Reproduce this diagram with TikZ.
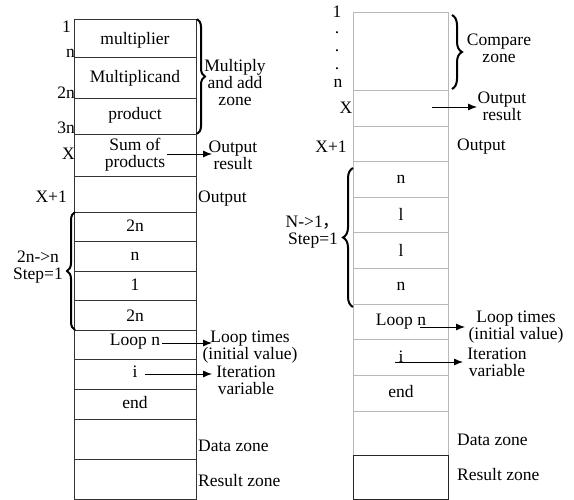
\documentclass[tikz,border=0pt]{standalone}
\usepackage{fontspec}
\setmainfont{Liberation Serif}
\newfontfamily\cjkfont{Noto Sans CJK SC}
\usetikzlibrary{arrows.meta,decorations.pathreplacing}
\begin{document}
\begin{tikzpicture}[x=1pt,y=-1pt,
  font=\fontsize{17.5}{17}\selectfont,
  lgrid/.style={draw=black!80,line width=0.9pt},
  rgrid/.style={draw=black!28,line width=0.9pt},
  txt/.style={inner sep=0pt,anchor=center},
  lbl/.style={inner sep=0pt,align=center},
  arr/.style={-{Latex[length=9pt,width=7pt]},line width=0.9pt},
  brc/.style={decorate,decoration={brace,amplitude=8pt},line width=2pt},
]
\useasboundingbox (0,0) rectangle (574,500);
% ---------- left column ----------
\foreach \a/\b in {19/57,57/98,98/134,134/176,176/212,212/241,241/271,271/300,300/330,330/359,359/389,389/419,419/459,459/499}
  \draw[lgrid] (74,\a) rectangle (196,\b);
\node[txt] (lmul) at (135,40) {multiplier};
\node[txt] (lmcd) at (135,78) {Multiplicand};
\node[txt] (lprod) at (135,115) {product};
\node[lbl] (lsum) at (135,155) {Sum of\\products};
\node[txt] (lc1) at (135,226) {2n};
\node[txt] (lc2) at (135,256) {n};
\node[txt] (lc3) at (135,285) {1};
\node[txt] (lc4) at (135,316) {2n};
\node[txt] (lloop) at (135,342) {Loop n};
\node[txt] (li) at (135,372) {i};
\node[txt] (lend) at (135,403) {end};
% index labels
\node[txt,anchor=east] (li1) at (71,27) {1};
\node[txt,anchor=east] (lin) at (75,53) {n};
\node[txt,anchor=east] (li2n) at (75,93) {2n};
\node[txt,anchor=east] (li3n) at (75,128) {3n};
\node[txt,anchor=east] (liX) at (75,154) {X};
\node[txt,anchor=east] (liX1) at (67,197) {X+1};
% braces
\draw[brc] (197,19) -- (197,134);
\draw[brc] (75,330) -- (75,212);
\node[lbl] (lmaz) at (235,83) {Multiply\\and add\\zone};
\node[lbl] (lstep) at (38,267) {2n->n\\Step=1};
% right labels
\node[lbl] (lout) at (233,155) {Output\\result};
\node[txt,anchor=west] (lout2) at (198,199) {Output};
\node[lbl] (llt) at (250,347) {Loop times\\(initial value)};
\node[lbl] (liv) at (246,380) {Iteration\\variable};
\node[txt,anchor=west] (ldata) at (198,446) {Data zone};
\node[txt,anchor=west] (lres) at (198,481) {Result zone};
% arrows
\coordinate (la1s) at (167,154); \coordinate (la1e) at (212,154);
\coordinate (la2s) at (162,343); \coordinate (la2e) at (212,343);
\coordinate (la3s) at (145,374); \coordinate (la3e) at (212,374);
\draw[arr] (la1s) -- (la1e);
\draw[arr] (la2s) -- (la2e);
\draw[arr] (la3s) -- (la3e);
% ---------- right column ----------
\foreach \a/\b in {12/90,90/126,126/161,161/197,197/232,232/268,268/304,304/339,339/375,375/411,411/455}
  \draw[rgrid] (353,\a) rectangle (448,\b);
\draw[line width=0.9pt,draw=black!85] (353,455) rectangle (448,499);
\node[txt] (rc1) at (401,179) {n};
\node[txt] (rc2) at (401,214) {l};
\node[txt] (rc3) at (401,250) {l};
\node[txt] (rc4) at (401,286) {n};
\node[txt] (rloop) at (401,322) {Loop n};
\node[txt] (ri) at (401,357) {i};
\node[txt] (rend) at (401,392) {end};
% index labels
\node[txt] (ri1) at (337,12) {1};
\node[txt] (rd1) at (337,33) {.};
\node[txt] (rd2) at (337,51) {.};
\node[txt] (rd3) at (337,69) {.};
\node[txt] (rin) at (338,83) {n};
\node[txt] (riX) at (346,108) {X};
\node[txt] (riX1) at (331,147) {X+1};
% braces
\draw[brc,decoration={amplitude=10pt}] (452,15) -- (452,89);
\draw[brc,decoration={amplitude=10pt}] (353,307) -- (353,168);
\node[lbl] (rcz) at (499,48) {Compare\\zone};
\node[lbl] (rstep) at (313,232) {N->1{\cjkfont ，}\\Step=1};
\node[lbl] (rout) at (502,106) {Output\\result};
\node[txt,anchor=west] (rout2) at (457,147) {Output};
\node[lbl] (rlt) at (516,327) {Loop times\\(initial value)};
\node[lbl] (riv) at (497,362) {Iteration\\variable};
\node[txt,anchor=west] (rdata) at (457,440) {Data zone};
\node[txt,anchor=west] (rres) at (457,475) {Result zone};
% arrows
\coordinate (ra1s) at (432,107); \coordinate (ra1e) at (477,107);
\coordinate (ra2s) at (420,327); \coordinate (ra2e) at (465,327);
\coordinate (ra3s) at (395,362); \coordinate (ra3e) at (463,362);
\draw[arr] (ra1s) -- (ra1e);
\draw[arr] (ra2s) -- (ra2e);
\draw[arr] (ra3s) -- (ra3e);
\end{tikzpicture}
\end{document}
